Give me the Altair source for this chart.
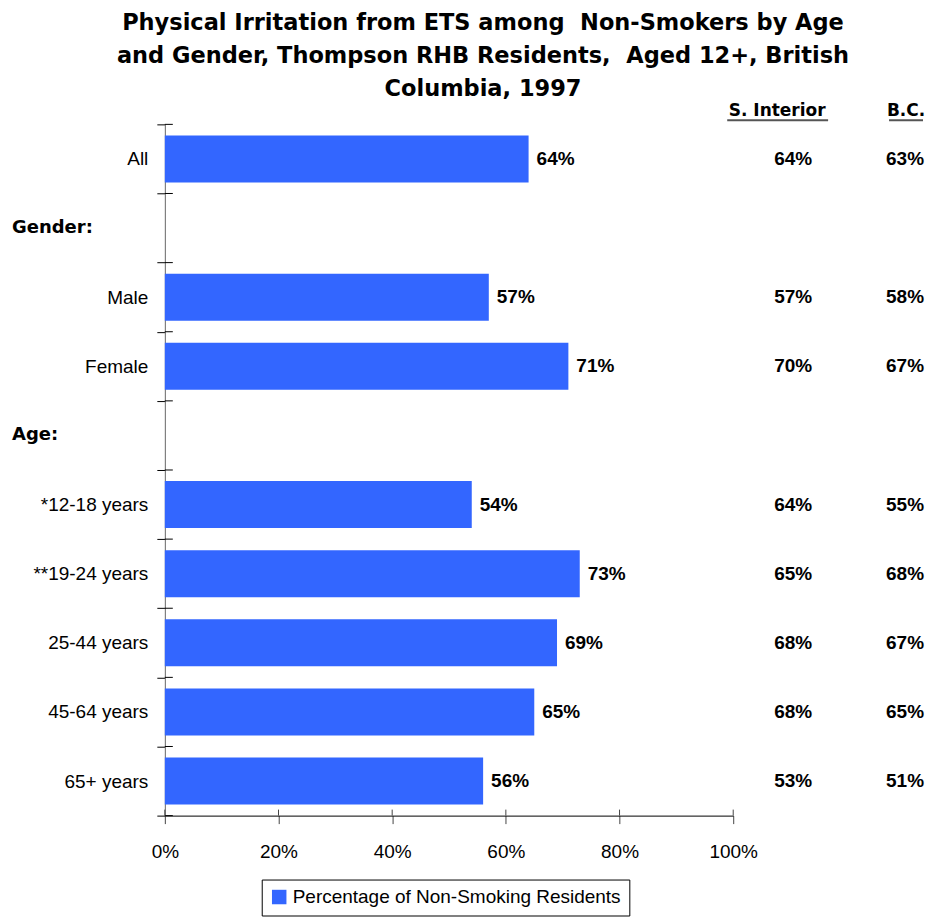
import altair as alt
import pandas as pd

categories = ["All", "Gender:", "Male", "Female", "Age:", "*12-18 years",
              "**19-24 years", "25-44 years", "45-64 years", "65+ years"]
thompson = [64, None, 57, 71, None, 54, 73, 69, 65, 56]
s_interior = [64, None, 57, 70, None, 64, 65, 68, 68, 53]
bc = [63, None, 58, 67, None, 55, 68, 67, 65, 51]
group_labels = ["Gender:", "Age:"]
series_name = "Percentage of Non-Smoking Residents"
x_ticks = [0, 20, 40, 60, 80, 100]

FONT = "Liberation Sans"
BFONT = "DejaVu Sans"
BLUE = "#3366FF"
W, H = 569, 692

def pct(v):
    return "" if v is None else f"{v}%"

df = pd.DataFrame({
    "cat": categories,
    "val": thompson,
    "val_lbl": [pct(v) for v in thompson],
    "si_lbl": [pct(v) for v in s_interior],
    "bc_lbl": [pct(v) for v in bc],
    "series": series_name,
})

ysc = alt.Scale(domain=categories, paddingInner=0, paddingOuter=0)
Y = alt.Y("cat:N", sort=categories, scale=ysc, title=None,
          axis=alt.Axis(tickBand="extent", tickSize=8, tickColor="black",
                        domainColor="#666666", labelFontSize=19, labelFont=FONT,
                        labelColor="black", labelPadding=9,
                        labelExpr="(datum.value == 'Gender:' || datum.value == 'Age:') ? '' : datum.value"))

base = alt.Chart(df)

bars = base.mark_bar(color=BLUE, height={"band": 0.68}).encode(
    x=alt.X("val:Q", scale=alt.Scale(domain=[0, 100]), title=None,
            axis=alt.Axis(values=x_ticks, labelExpr="datum.value + '%'",
                          tickSize=8, tickColor="#444444", domainColor="black",
                          labelFontSize=19, labelFont=FONT, labelColor="black",
                          labelPadding=19, labelFlush=False, grid=False)),
    y=Y,
    color=alt.Color("series:N", scale=alt.Scale(range=[BLUE]), title=None,
                    legend=alt.Legend(orient="none", legendX=97, legendY=756,
                                      direction="horizontal", strokeColor="black",
                                      padding=8, cornerRadius=0, symbolType="square",
                                      symbolSize=210, symbolStrokeWidth=0,
                                      labelFontSize=19, labelFont=FONT, labelLimit=0,
                                      labelOffset=4, labelColor="black")),
).transform_filter("isValid(datum.val)")

# inner halves of the y-axis ticks (ticks cross the axis line)
ytick_in = base.mark_rule(color="black").encode(
    y=alt.Y("cat:N", sort=categories, scale=ysc, bandPosition=0),
    x=alt.value(0), x2=alt.value(8))
ytick_last = base.mark_rule(color="black").encode(
    y=alt.Y("cat:N", sort=categories, scale=ysc, bandPosition=1),
    x=alt.value(0), x2=alt.value(8)
).transform_filter(alt.FieldEqualPredicate(field="cat", equal=categories[-1]))

xt_df = pd.DataFrame({"t": x_ticks})
xtick_in = alt.Chart(xt_df).mark_rule(color="#444444").encode(
    x=alt.X("t:Q", scale=alt.Scale(domain=[0, 100])),
    y=alt.value(H - 6), y2=alt.value(H))

vals = base.mark_text(align="left", dx=8, fontSize=19, fontWeight="bold",
                      font=FONT, color="black").encode(
    x="val:Q", y=Y, text="val_lbl:N"
).transform_filter("isValid(datum.val)")

si_text = base.mark_text(align="center", fontSize=19, fontWeight="bold",
                         font=FONT, color="black").encode(
    x=alt.value(629), y=Y, text="si_lbl:N")

bc_text = base.mark_text(align="center", fontSize=19, fontWeight="bold",
                         font=FONT, color="black").encode(
    x=alt.value(741), y=Y, text="bc_lbl:N")

grp = base.mark_text(align="left", fontSize=18, fontWeight="bold",
                     font=BFONT, color="black").encode(
    x=alt.value(-153), y=Y, text="cat:N"
).transform_filter(alt.FieldOneOfPredicate(field="cat", oneOf=group_labels))

hdr_df = pd.DataFrame({"h": ["S. Interior", "B.C."], "xc": [613, 742],
                       "x1": [563, 725], "x2": [664, 759]})
hdr = alt.Chart(hdr_df).mark_text(fontSize=17, fontWeight="bold", font=BFONT,
                                  color="black", align="center").encode(
    x=alt.X("xc:Q", scale=None), y=alt.value(-13), text="h:N")
ul = alt.Chart(hdr_df).mark_rule(color="#555555", strokeWidth=2).encode(
    x=alt.X("x1:Q", scale=None), x2="x2:Q", y=alt.value(-4))

chart = alt.layer(bars, ytick_in, ytick_last, xtick_in, vals, si_text, bc_text,
                  grp, hdr, ul).properties(
    width=W, height=H,
    padding={"left": 4, "top": 3, "right": 0, "bottom": 0},
    title=alt.TitleParams(
        text=["Physical Irritation from ETS among \u00a0Non-Smokers by Age",
              "and Gender, Thompson RHB Residents, \u00a0Aged 12+, British",
              "Columbia, 1997"],
        fontSize=22.5, fontWeight="bold", font=BFONT, color="black",
        lineHeight=33, anchor="middle", frame="group", dx=34, offset=2),
).configure_view(stroke=None)

chart.save("out.html", embed_options={"renderer": "svg", "actions": False})
